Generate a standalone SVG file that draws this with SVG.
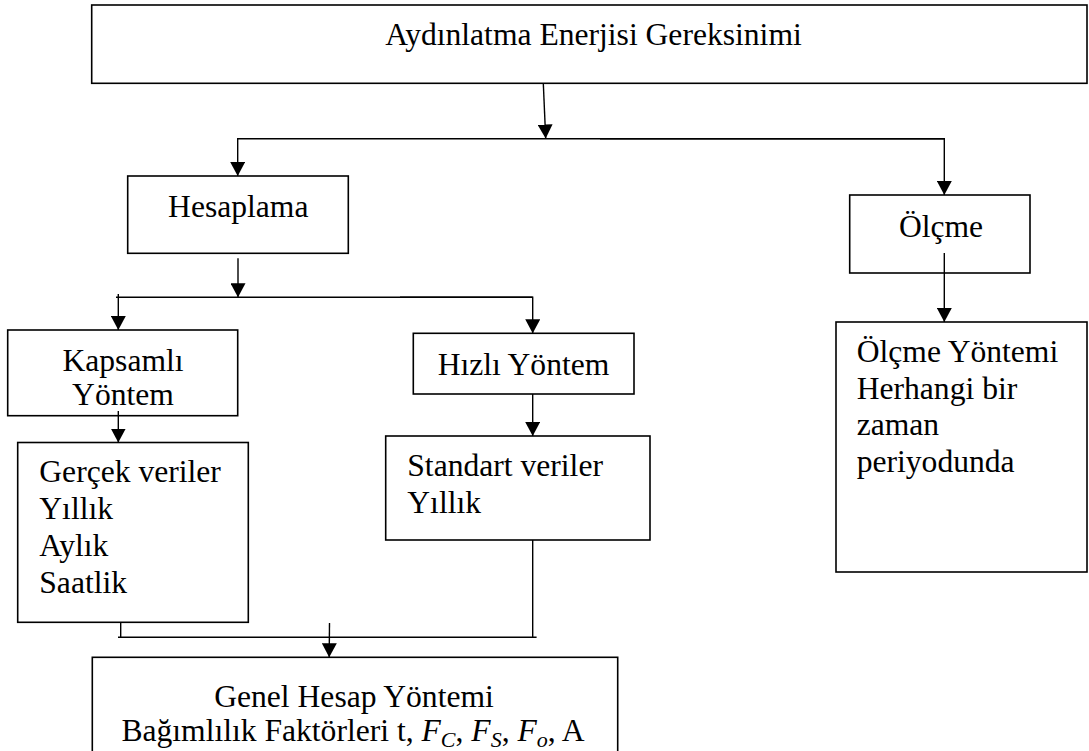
<svg xmlns="http://www.w3.org/2000/svg" width="1089" height="751" viewBox="0 0 1089 751">
<style>
  .box { fill: #fff; stroke: #000; stroke-width: 1.6; }
  .t { font-family: "Liberation Serif", "Times New Roman", serif; font-size: 31.6px; fill: #000; }
  .c { text-anchor: middle; }
  .con { fill: none; stroke: #000; stroke-width: 1.4; }
  .it { font-style: italic; }
  .sub { font-style: italic; font-size: 22px; }
</style>
<defs>
  <marker id="ah" viewBox="0 0 14 15" refX="14" refY="7.5" markerWidth="14" markerHeight="15" markerUnits="userSpaceOnUse" orient="auto">
    <path d="M0,0 L14,7.5 L0,15 Z" fill="#000"/>
  </marker>
</defs>
<rect width="1089" height="751" fill="#fff"/>

<g id="n-top">
  <rect class="box" x="91.7" y="5" width="995.3" height="78.3"/>
  <text class="t c" x="593.5" y="45">Aydınlatma Enerjisi Gereksinimi</text>
</g>
<g id="n-hesaplama">
  <rect class="box" x="127.7" y="176" width="220.6" height="77.3"/>
  <text class="t c" x="238.3" y="217">Hesaplama</text>
</g>
<g id="n-olcme">
  <rect class="box" x="849.7" y="195" width="180.3" height="78"/>
  <text class="t c" x="941" y="237">Ölçme</text>
</g>
<g id="n-olcme-yontemi">
  <rect class="box" x="836" y="322" width="251" height="250"/>
  <text class="t" x="856.7" y="362">Ölçme Yöntemi</text>
  <text class="t" x="856.7" y="398.5">Herhangi bir</text>
  <text class="t" x="856.7" y="435">zaman</text>
  <text class="t" x="856.7" y="471.7">periyodunda</text>
</g>
<g id="n-kapsamli">
  <rect class="box" x="7.7" y="330" width="230" height="85.7"/>
  <text class="t c" x="123" y="370.7">Kapsamlı</text>
  <text class="t c" x="123" y="405">Yöntem</text>
</g>
<g id="n-hizli">
  <rect class="box" x="413.3" y="333.3" width="220.7" height="60.7"/>
  <text class="t c" x="523.5" y="375">Hızlı Yöntem</text>
</g>
<g id="n-gercek">
  <rect class="box" x="17.7" y="442.5" width="230.6" height="179.8"/>
  <text class="t" x="39.3" y="481.7">Gerçek veriler</text>
  <text class="t" x="39.3" y="519">Yıllık</text>
  <text class="t" x="39.3" y="555.5">Aylık</text>
  <text class="t" x="39.3" y="593.3">Saatlik</text>
</g>
<g id="n-standart">
  <rect class="box" x="385.7" y="436" width="264.3" height="104"/>
  <text class="t" x="407.3" y="475.7">Standart veriler</text>
  <text class="t" x="407.3" y="513.3">Yıllık</text>
</g>
<g id="n-genel">
  <rect class="box" x="92.3" y="657.3" width="525.4" height="110"/>
  <text class="t c" x="354" y="707">Genel Hesap Yöntemi</text>
  <text class="t c" x="353" y="741">Bağımlılık Faktörleri t, <tspan class="it">F</tspan><tspan class="sub" dy="6">C</tspan><tspan dy="-6">, </tspan><tspan class="it">F</tspan><tspan class="sub" dy="6">S</tspan><tspan dy="-6">, </tspan><tspan class="it">F</tspan><tspan class="sub" dy="6">o</tspan><tspan dy="-6">, A</tspan></text>
</g>

<g id="connectors">
  <path class="con" d="M543.3,83.3 L545.7,138.5" marker-end="url(#ah)"/>
  <path class="con" d="M944.3,138.7 H237.7 V176" marker-end="url(#ah)"/>
  <path class="con" d="M600,138.7 H944.3 V195" marker-end="url(#ah)"/>
  <path class="con" d="M238,258.3 V297.3" marker-end="url(#ah)"/>
  <path class="con" d="M532.7,297.3 H116"/>
  <path class="con" d="M118.3,294 V330" marker-end="url(#ah)"/>
  <path class="con" d="M400,297.3 H532.7 V333.3" marker-end="url(#ah)"/>
  <path class="con" d="M118.3,411 V442.5" marker-end="url(#ah)"/>
  <path class="con" d="M532.7,394 V436" marker-end="url(#ah)"/>
  <path class="con" d="M944.3,253 V322" marker-end="url(#ah)"/>
  <path class="con" d="M120.7,622.3 V637.3"/>
  <path class="con" d="M118,637.3 H536.6"/>
  <path class="con" d="M532.7,540 V637.3"/>
  <path class="con" d="M329.5,623 L329.2,657.3" marker-end="url(#ah)"/>
</g>
</svg>
